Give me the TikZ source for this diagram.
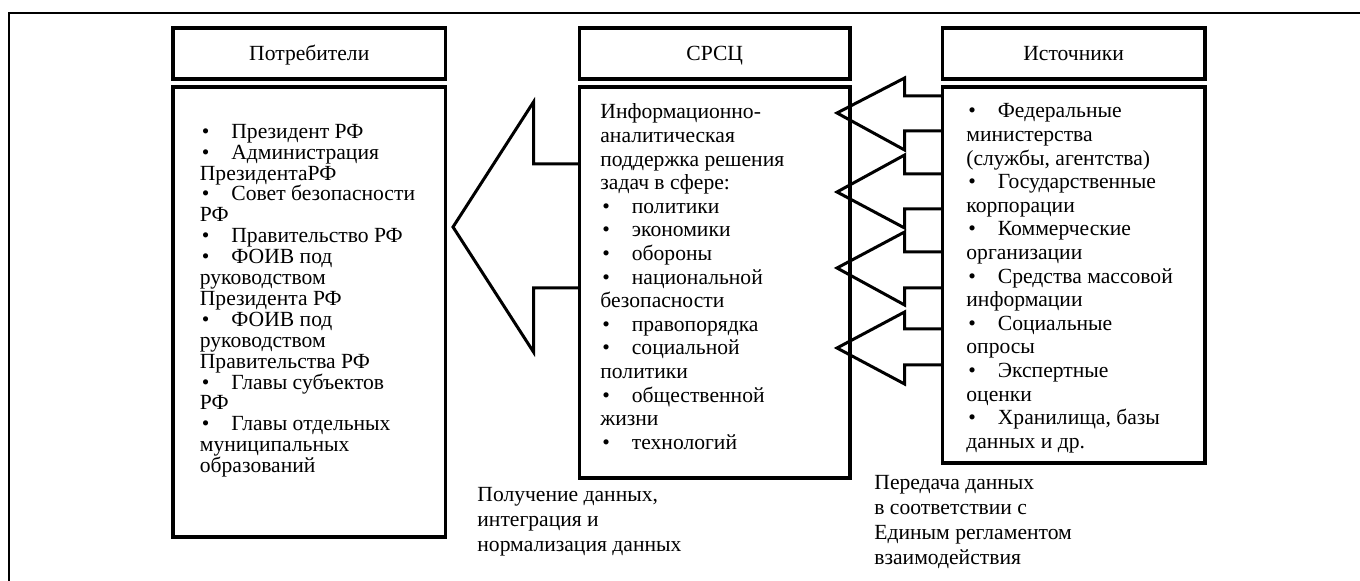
\documentclass[tikz,border=0pt]{standalone}
\usepackage{fontspec}
\setmainfont{Liberation Serif}
\newcommand\bitem[1]{\hspace*{1pt}\makebox[14.75pt][l]{•}#1}
\begin{document}
\begin{tikzpicture}[x=0.5pt,y=-0.5pt,
  box/.style={draw, line width=1.6pt, inner sep=0pt, outer sep=0pt, rectangle},
  headbox/.style={box, minimum height=25.5pt, font=\fontsize{10.8}{12}\selectfont, text height=9.7pt, text depth=2.5pt},
  blockarrow/.style={draw, line width=1.5pt, line join=miter},
  listtext/.style={anchor=base west, inner sep=0pt, align=left},
  tightlist/.style={listtext, font=\fontsize{10.8}{10.45}\selectfont},
  widelist/.style={listtext, font=\fontsize{10.8}{11.8}\selectfont},
  notetext/.style={listtext, font=\fontsize{10.8}{12.5}\selectfont}]
\useasboundingbox (0,0) rectangle (1360,581);
% outer frame (top and left only)
\coordinate (frameTR) at (1360,13);
\coordinate (frameTL) at (8.5,13);
\coordinate (frameBL) at (8.5,581);
\draw[line width=1pt] (frameTR) -- (frameTL) -- (frameBL);
% headers
\node[headbox, minimum width=136.25pt] (pothead) at (309.25,53.5) {Потребители};
\node[headbox, minimum width=135.25pt] (srschead) at (714.75,53.5) {СРСЦ};
\node[headbox, minimum width=131.3pt] (isthead) at (1073.7,53.5) {Источники};
% bodies
\node[box, minimum width=136.25pt, minimum height=225pt] (potbody) at (309.25,312) {};
\node[box, minimum width=135.25pt, minimum height=195.5pt] (srscbody) at (714.75,282.5) {};
\node[box, minimum width=131.3pt, minimum height=188pt] (istbody) at (1073.7,275) {};
% big arrow from SRSC to consumers
\draw[blockarrow] (srscbody.west |- 0,164) -- (533.5,164) -- (533.5,102) -- (453,227)
  -- (533.5,352) -- (533.5,288) -- (srscbody.west |- 0,288);
% small arrows from sources to SRSC
\foreach \ty/\ht/\hb/\st/\sb in {113/78/150/96/131, 192/155/228/174/209, 268/232/305/252/288, 348/312/384/329/365}{
  \draw[blockarrow] (istbody.west |- 0,\st) -- (904.6,\st) -- (904.6,\ht) -- (837,\ty)
    -- (904.6,\hb) -- (904.6,\sb) -- (istbody.west |- 0,\sb);
}
% texts (anchored at the baseline of their last line)
\node[tightlist] (pottext) at (199.5,472.7) {%
\bitem{Президент РФ}\\
\bitem{Администрация}\\
ПрезидентаРФ\\
\bitem{Совет безопасности}\\
РФ\\
\bitem{Правительство РФ}\\
\bitem{ФОИВ под}\\
руководством\\
Президента РФ\\
\bitem{ФОИВ под}\\
руководством\\
Правительства РФ\\
\bitem{Главы субъектов}\\
РФ\\
\bitem{Главы отдельных}\\
муниципальных\\
образований};
\node[widelist] (srsctext) at (600,449.4) {%
Информационно-\\
аналитическая\\
поддержка решения\\
задач в сфере:\\
\bitem{политики}\\
\bitem{экономики}\\
\bitem{обороны}\\
\bitem{национальной}\\
безопасности\\
\bitem{правопорядка}\\
\bitem{социальной}\\
политики\\
\bitem{общественной}\\
жизни\\
\bitem{технологий}};
\node[widelist] (isttext) at (966,448.4) {%
\bitem{Федеральные}\\
министерства\\
(службы, агентства)\\
\bitem{Государственные}\\
корпорации\\
\bitem{Коммерческие}\\
организации\\
\bitem{Средства массовой}\\
информации\\
\bitem{Социальные}\\
опросы\\
\bitem{Экспертные}\\
оценки\\
\bitem{Хранилища, базы}\\
данных и др.};
\node[notetext] (note1) at (477,552) {%
Получение данных,\\
интеграция и\\
нормализация данных};
\node[notetext] (note2) at (874,565) {%
Передача данных\\
в соответствии с\\
Единым регламентом\\
взаимодействия};
\end{tikzpicture}
\end{document}
